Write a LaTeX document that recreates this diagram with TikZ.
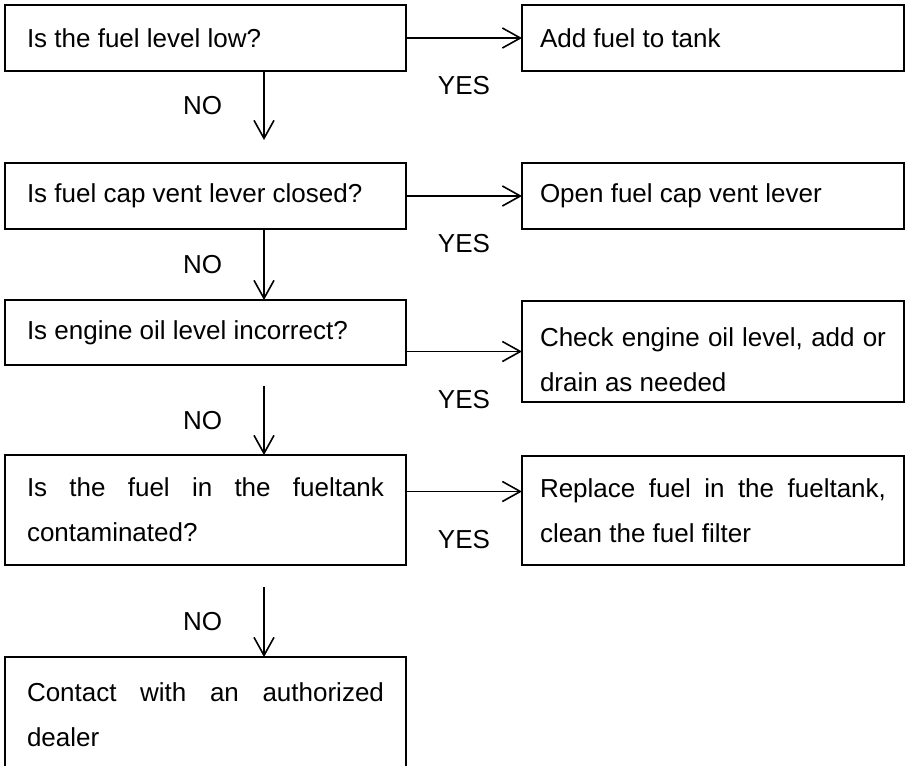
\documentclass[tikz,border=0pt]{standalone}
\usepackage{fontspec}
\setmainfont{Liberation Sans}
\usetikzlibrary{arrows.meta,positioning}
\newcommand\boxfont{\fontsize{13}{22.5}\selectfont\hyphenpenalty=10000\exhyphenpenalty=10000\relax}
\tikzset{
  qbox/.style={rectangle, draw, line width=0.8pt, outer sep=0pt, font=\boxfont,
    align=justify, inner xsep=11pt, text width=178.5pt, minimum height=33pt},
  abox/.style={qbox, inner xsep=9pt, text width=173pt},
  lbl/.style={font=\fontsize{13}{22.5}\selectfont, inner sep=0pt},
  flow/.style={-{Straight Barb[length=9pt,width=10pt]}, line width=0.8pt}
}

\begin{document}
\begin{tikzpicture}[x=0.5pt,y=-0.5pt]
        \useasboundingbox (0,0) rectangle (907,766);
        \clip (0,0) rectangle (907,766);
        \node[qbox,anchor=north west] (q1) at (5,5) {Is the fuel level low?};
        \node[qbox,below=46pt of q1] (q2) {Is fuel cap vent lever closed?};
        \node[qbox,below=35.5pt of q2,minimum height=32.5pt] (q3) {Is engine oil level incorrect?};
        \node[qbox,below=45pt of q3,minimum height=55pt] (q4) {Is the fuel in the fueltank contaminated?};
        \node[qbox,below=46pt of q4,minimum height=57.5pt] (q5) {Contact with an authorized dealer};
        \node[abox,right=58pt of q1] (a1) {Add fuel to tank};
        \node[abox,right=58pt of q2] (a2) {Open fuel cap vent lever};
        \node[abox,below=36pt of a2,minimum height=50.5pt] (a3) {\rule{0pt}{17.5pt}Check engine oil level, add or drain as needed};
        \node[abox,below=27pt of a3,minimum height=54.5pt] (a4) {Replace fuel in the fueltank, clean the fuel filter};
        \coordinate (col) at (264,0);
        \draw[flow] (q1.south -| col) -- node[lbl,left=20.5pt] (no1) {NO} ([yshift=11.5pt]q2.north -| col);
        \draw[flow] (q2.south -| col) -- node[lbl,left=20.5pt] (no2) {NO} (q3.north -| col);
        \draw[flow] ([yshift=-10.5pt]q3.south -| col) -- node[lbl,left=20.5pt] (no3) {NO} (q4.north -| col);
        \draw[flow] ([yshift=-11pt]q4.south -| col) -- node[lbl,left=20.5pt] (no4) {NO} (q5.north -| col);
        \draw[flow] (q1) -- node[lbl,below=19pt] (yes1) {YES} (a1);
        \draw[flow] (q2) -- node[lbl,below=19pt] (yes2) {YES} (a2);
        \draw[flow] (q3.east |- a3.west) -- node[lbl,below=19pt] (yes3) {YES} (a3.west);
        \draw[flow] ([yshift=-18.25pt]q4.north east) -- node[lbl,below=19pt] (yes4) {YES} ([yshift=-18.25pt]q4.north east -| a4.west);
      \end{tikzpicture}
\end{document}
